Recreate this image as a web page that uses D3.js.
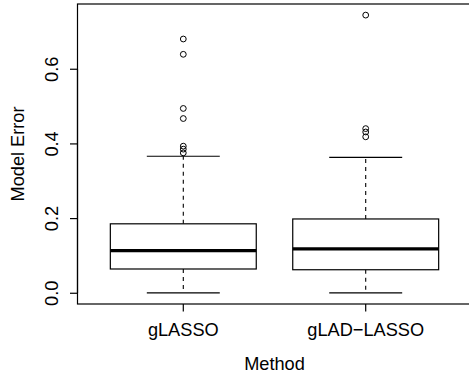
<!DOCTYPE html>
<html>
<head>
<meta charset="utf-8">
<script src="https://cdn.jsdelivr.net/npm/d3@7"></script>
<style>
  html, body { margin: 0; padding: 0; background: #fff; }
  svg { display: block; }
  text { font-family: "Liberation Sans", Arial, Helvetica, sans-serif; fill: #000; }
</style>
</head>
<body>
<svg id="chart" width="469" height="381"></svg>
<script>
// Boxplot summaries of model error for each method
const methods = ["gLASSO", "gLAD\u2212LASSO"];
const lowerWhisker = [0.001, 0.001];
const q1 = [0.065, 0.063];
const median = [0.114, 0.119];
const q3 = [0.186, 0.199];
const upperWhisker = [0.367, 0.364];
const outliers = [
  [0.681, 0.640, 0.495, 0.468, 0.394, 0.386, 0.376],
  [0.745, 0.441, 0.432, 0.419]
];
const yTicks = [0.0, 0.2, 0.4, 0.6];
const xTitle = "Method";
const yTitle = "Model Error";

const svg = d3.select("#chart");
const plot = { left: 77.5, right: 471.5, top: 4, bottom: 304 };

// R-style axis limits: 4% padding around the data range
const allVals = lowerWhisker.concat(upperWhisker, outliers.flat());
const lo = d3.min(allVals), hi = d3.max(allVals);
const pad = (hi - lo) * 0.04;
const y = d3.scaleLinear().domain([lo - pad, hi + pad]).range([plot.bottom, plot.top]);
const x = d3.scaleLinear().domain([0.42, 2.58]).range([plot.left, plot.right]);

const boxHalf = 0.4, capHalf = 0.2;
const fontSize = 18.2;

// plot frame
svg.append("rect")
  .attr("x", plot.left).attr("y", plot.top)
  .attr("width", plot.right - plot.left).attr("height", plot.bottom - plot.top)
  .attr("fill", "none").attr("stroke", "#000").attr("stroke-width", 1.2);

methods.forEach((m, i) => {
  const cx = x(i + 1);
  const g = svg.append("g");
  // dashed whiskers
  g.append("line").attr("x1", cx).attr("x2", cx)
    .attr("y1", y(q3[i])).attr("y2", y(upperWhisker[i]))
    .attr("stroke", "#000").attr("stroke-width", 1.1).attr("stroke-dasharray", "4,4");
  g.append("line").attr("x1", cx).attr("x2", cx)
    .attr("y1", y(q1[i])).attr("y2", y(lowerWhisker[i]))
    .attr("stroke", "#000").attr("stroke-width", 1.1).attr("stroke-dasharray", "4,4");
  // whisker caps
  [upperWhisker[i], lowerWhisker[i]].forEach(v => {
    g.append("line").attr("x1", x(i + 1 - capHalf)).attr("x2", x(i + 1 + capHalf))
      .attr("y1", y(v)).attr("y2", y(v))
      .attr("stroke", "#000").attr("stroke-width", 1.2);
  });
  // box
  g.append("rect")
    .attr("x", x(i + 1 - boxHalf)).attr("y", y(q3[i]))
    .attr("width", x(i + 1 + boxHalf) - x(i + 1 - boxHalf))
    .attr("height", y(q1[i]) - y(q3[i]))
    .attr("fill", "#fff").attr("stroke", "#000").attr("stroke-width", 1.2);
  // median
  g.append("line").attr("x1", x(i + 1 - boxHalf)).attr("x2", x(i + 1 + boxHalf))
    .attr("y1", y(median[i])).attr("y2", y(median[i]))
    .attr("stroke", "#000").attr("stroke-width", 3.2);
  // outliers
  g.selectAll("circle").data(outliers[i]).join("circle")
    .attr("cx", cx).attr("cy", d => y(d)).attr("r", 2.9)
    .attr("fill", "none").attr("stroke", "#000").attr("stroke-width", 1);
});

// y axis
const yAxis = svg.append("g");
yAxis.append("line").attr("x1", plot.left).attr("x2", plot.left)
  .attr("y1", y(yTicks[0])).attr("y2", y(yTicks[yTicks.length - 1]))
  .attr("stroke", "#000").attr("stroke-width", 1.2);
yTicks.forEach(t => {
  yAxis.append("line").attr("x1", plot.left - 7.5).attr("x2", plot.left)
    .attr("y1", y(t)).attr("y2", y(t)).attr("stroke", "#000").attr("stroke-width", 1.2);
  yAxis.append("text")
    .attr("transform", `translate(57.5,${y(t)}) rotate(-90)`)
    .attr("text-anchor", "middle").attr("font-size", fontSize)
    .text(d3.format(".1f")(t));
});

// x axis
const xAxis = svg.append("g");
methods.forEach((m, i) => {
  xAxis.append("line").attr("x1", x(i + 1)).attr("x2", x(i + 1))
    .attr("y1", plot.bottom).attr("y2", plot.bottom + 7.5)
    .attr("stroke", "#000").attr("stroke-width", 1.2);
  xAxis.append("text").attr("x", x(i + 1)).attr("y", 335.5)
    .attr("text-anchor", "middle").attr("font-size", fontSize).text(m);
});

// axis titles
svg.append("text").attr("x", (plot.left + plot.right) / 2).attr("y", 370)
  .attr("text-anchor", "middle").attr("font-size", fontSize).text(xTitle);
svg.append("text")
  .attr("transform", `translate(23.5,${(plot.top + plot.bottom) / 2}) rotate(-90)`)
  .attr("text-anchor", "middle").attr("font-size", fontSize).text(yTitle);
</script>
</body>
</html>
